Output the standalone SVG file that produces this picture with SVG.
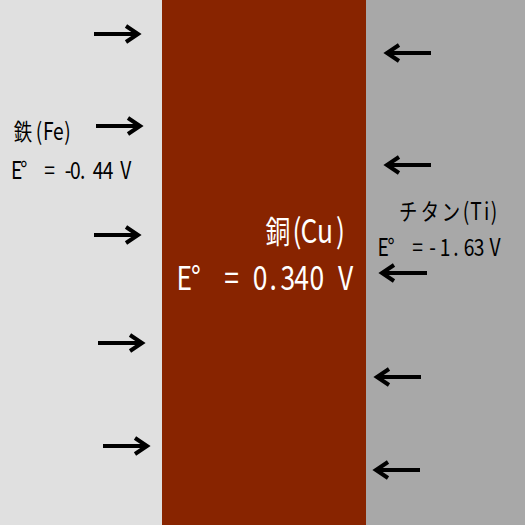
<svg xmlns="http://www.w3.org/2000/svg" width="525" height="525" viewBox="0 0 525 525">
<style>
.lbl{font-family:"Noto Sans CJK JP","DejaVu Sans",sans-serif;font-size:24px;fill:#000;text-anchor:middle}
.big{font-family:"Noto Sans CJK JP","DejaVu Sans",sans-serif;font-size:33px;fill:#fff;text-anchor:middle}
.cj{font-size:23px}
.cjb{font-size:31px}
.arr{stroke:#000;stroke-width:4;fill:none}
</style>
<defs>
<marker id="ah" markerUnits="userSpaceOnUse" markerWidth="20" markerHeight="20" refX="0" refY="0" viewBox="-16 -10 20 20" orient="auto" overflow="visible">
<path d="M -12 -8 L 0 0 L -12 8" stroke="#000" stroke-width="4" fill="none"/>
</marker>
</defs>
<g id="iron">
<rect x="0" y="0" width="162" height="525" fill="#e0e0e0"/>
<g transform="scale(0.8,1)">
<text class="lbl" y="140" x="28.75 48.75 60.4 72.9 84.4"><tspan class="cj">鉄</tspan>(Fe)</text>
<text class="lbl" y="179" x="20.9 29.8 46.3 61.9 73.8 85 94.1 103.4 122.5 135 146.3 157.1">E° = -0.44 V</text>
</g>
</g>
<g id="copper">
<rect x="162" y="0" width="204" height="525" fill="#882400"/>
<g transform="scale(0.8,1)">
<text class="big" y="243.5" x="347.5 371.3 386.3 406.3 425.6"><tspan class="cjb">銅</tspan>(Cu)</text>
<text class="big" y="290.5" x="230.4 244.8 268 289.6 307 325 341.6 359.9 377.1 395.9 414 431.9">E° = 0.340 V</text>
</g>
</g>
<g id="titanium">
<rect x="366" y="0" width="159" height="525" fill="#a8a8a8"/>
<g transform="scale(0.8,1)">
<text class="lbl" y="220" x="510.4 537.5 563.8 582.5 595 608.4 617.5"><tspan class="cj">チタン</tspan>(Ti)</text>
<text class="lbl" y="256.5" x="478.8 488.7 505 521.9 531.3 540.6 556.3 570 586.5 599 608.8 618.8">E° = -1.63 V</text>
</g>
</g>
<g id="connectors" class="arr">
<line x1="94" y1="34" x2="138" y2="34" marker-end="url(#ah)"/>
<line x1="96" y1="126" x2="140" y2="126" marker-end="url(#ah)"/>
<line x1="94" y1="235" x2="138" y2="235" marker-end="url(#ah)"/>
<line x1="98" y1="343" x2="142" y2="343" marker-end="url(#ah)"/>
<line x1="103" y1="446" x2="147" y2="446" marker-end="url(#ah)"/>
<line x1="431" y1="53" x2="387" y2="53" marker-end="url(#ah)"/>
<line x1="431" y1="165" x2="387" y2="165" marker-end="url(#ah)"/>
<line x1="427" y1="273" x2="382" y2="273" marker-end="url(#ah)"/>
<line x1="421" y1="377" x2="377" y2="377" marker-end="url(#ah)"/>
<line x1="420" y1="470" x2="376" y2="470" marker-end="url(#ah)"/>
</g>
</svg>
